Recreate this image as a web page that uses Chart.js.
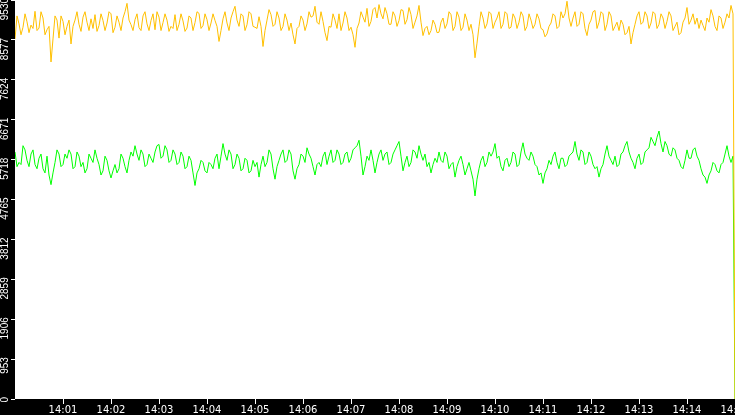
<!DOCTYPE html>
<html>
<head>
<meta charset="utf-8">
<title>Two channel trace</title>
<style>
  html, body { margin: 0; padding: 0; background: #000; }
  canvas { display: block; }
</style>
<script src="https://cdn.jsdelivr.net/npm/chart.js@4.4.1/dist/chart.umd.min.js"></script>
</head>
<body>
<canvas id="chart" width="735" height="415"></canvas>
<script>
// one sample every 2.5 s from 14:00:00 to 14:15:00
const sampleStep = 2.5;

const yellowValues = [
    8600, 9150, 8960, 8700, 8880, 9200, 9010, 8750, 8930, 8850, 9260, 8800, 8860, 9250, 9100, 8700, 8820, 8900, 8050, 8600,
    9150, 9050, 8620, 9150, 9020, 8700, 8900, 9050, 8480, 8900, 9050, 9250, 8950, 8780, 9120, 9250, 9000, 8800, 9080, 8850,
    9180, 8780, 8920, 9200, 9040, 8800, 8980, 9250, 9200, 8750, 8880, 9150, 9000, 8800, 9100, 9250, 9450, 9050, 8940, 8800,
    9060, 9200, 8870, 8800, 9150, 9250, 8960, 8800, 9040, 9200, 8820, 9250, 9120, 8800, 8990, 9200, 9050, 8780, 8900, 8850,
    9180, 8800, 8950, 9200, 9030, 8780, 8860, 9150, 9100, 8800, 8990, 9250, 9210, 8850, 8920, 9200, 9060, 8800, 8980, 9200,
    9040, 8900, 8540, 8800, 9080, 9250, 8980, 8800, 9100, 9250, 9380, 9050, 8900, 9200, 9150, 8800, 8940, 9250, 9200, 8900,
    8880, 8850, 9130, 8900, 8420, 8800, 9050, 9300, 9180, 8900, 8950, 9250, 9100, 8800, 8900, 9200, 9050, 8800, 8980, 8700,
    8480, 8850, 8900, 9150, 9050, 8800, 8960, 9250, 9120, 9150, 9380, 9000, 8950, 9250, 9020, 8750, 8560, 8900, 8880, 9200,
    9050, 8850, 9200, 8800, 8980, 9250, 9100, 8800, 8880, 8700, 8400, 8850, 8980, 9250, 9120, 9000, 9330, 8900, 9020, 9300,
    9350, 9100, 9420, 9200, 9080, 9350, 9200, 8950, 8950, 9250, 9150, 8900, 9040, 9300, 9280, 8950, 9060, 9350, 9180, 8850,
    9000, 9150, 9400, 9000, 8680, 8850, 8900, 8700, 8800, 9050, 8950, 8750, 8760, 9000, 9100, 8850, 8960, 9250, 9180, 8800,
    8900, 9250, 9120, 8800, 8880, 9200, 9050, 8800, 8950, 8700, 8150, 8500, 8900, 9250, 9100, 8850, 8960, 9250, 9200, 8850,
    9000, 9100, 9250, 8850, 8950, 9250, 9200, 8850, 8880, 9200, 9100, 8850, 9000, 9250, 9150, 8800, 8900, 9200, 9050, 8850,
    8950, 9200, 9080, 8850, 8820, 8650, 8720, 8900, 8980, 9200, 9150, 8850, 8900, 9250, 9100, 9200, 9500, 9100, 8900, 9100,
    9250, 8900, 8950, 9250, 9200, 8850, 8680, 8950, 9050, 9250, 9280, 8850, 9000, 9250, 9200, 8800, 8950, 9250, 9150, 8800,
    8900, 9000, 8800, 9050, 8950, 8700, 8750, 8900, 8480, 8750, 8950, 9150, 9250, 8950, 9000, 9250, 9150, 8850, 8980, 9250,
    9200, 8850, 8950, 9200, 9100, 8850, 9020, 9250, 9150, 8800, 8900, 9000, 8700, 8750, 9000, 9100, 9350, 8950, 9050, 9200,
    8950, 9100, 8850, 9050, 8920, 8800, 9100, 9000, 9300, 9150, 8900, 8800, 9150, 9100, 8850, 9000, 9200, 9100, 9400, 9200,
    0
];

const greenValues = [
    5900, 5550, 5650, 5600, 6050, 5950, 5700, 5550, 5850, 5950, 5600, 5500, 5750, 5850, 5500, 5400, 5800, 5350, 5120, 5400,
    5650, 5950, 5850, 5550, 5600, 5850, 5750, 5950, 5850, 5500, 5550, 5900, 5800, 5550, 5650, 5400, 5500, 5850, 5750, 5650,
    5950, 5750, 5600, 5350, 5450, 5800, 5700, 5450, 5280, 5450, 5600, 5400, 5500, 5850, 5750, 5550, 5400, 5700, 5900, 5800,
    6050, 5850, 5700, 5950, 5850, 5550, 5600, 5850, 5750, 5650, 5900, 6050, 6080, 5750, 5800, 6050, 5950, 5650, 5700, 5950,
    5850, 5600, 5650, 5900, 5800, 5500, 5550, 5800, 5700, 5400, 5100, 5400, 5500, 5700, 5650, 5450, 5400, 5650, 5600, 5500,
    5750, 5850, 5500, 5800, 6100, 5850, 5700, 5950, 5850, 5500, 5600, 5850, 5750, 5450, 5500, 5750, 5700, 5400, 5450, 5700,
    5550, 5650, 5300, 5600, 5800, 5550, 5650, 5950, 5850, 5500, 5250, 5550, 5700, 5850, 5950, 5650, 5700, 5950, 5850, 5450,
    5250, 5500, 5600, 5850, 5800, 5650, 6000, 5850, 5750, 5550, 5350, 5600, 5650, 5550, 5800, 5900, 5600, 5800, 5950, 5650,
    5700, 5950, 5850, 5600, 5650, 5850, 5900, 5650, 5750, 5950, 6000, 6050, 6180, 5800, 5350, 5550, 5800, 5700, 5950, 5700,
    5400, 5650, 5850, 5950, 5700, 5850, 5900, 5600, 5650, 5850, 5950, 6050, 6150, 5800, 5450, 5650, 5800, 5550, 5650, 5950,
    5900, 5750, 6050, 5850, 5700, 5850, 5550, 5650, 5400, 5600, 5750, 5650, 5900, 5700, 5650, 5900, 5800, 5500, 5600, 5650,
    5300, 5550, 5700, 5800, 5600, 5350, 5500, 5650, 5450, 5250, 4850, 5250, 5500, 5700, 5800, 5550, 5650, 5900, 5800, 5900,
    6100, 5750, 5800, 5550, 5450, 5700, 5750, 5550, 5650, 5900, 5850, 5550, 5600, 5900, 6120, 5850, 5750, 5700, 5900, 5800,
    5600, 5550, 5350, 5400, 5150, 5400, 5500, 5700, 5600, 5800, 5900, 5650, 5500, 5750, 5750, 5550, 5600, 5800, 5850, 5900,
    6150, 5850, 5700, 5950, 5900, 5600, 5650, 5900, 5800, 5600, 5500, 5550, 5300, 5500, 5600, 5850, 6050, 5800, 5700, 5600,
    5800, 5550, 5600, 5850, 5900, 6050, 6150, 5900, 5750, 5650, 5500, 5750, 5850, 5600, 5650, 5900, 5950, 6000, 6250, 6150,
    6050, 6250, 6400, 6100, 5900, 6150, 6050, 5850, 5800, 6000, 5950, 5750, 5700, 5550, 5500, 5700, 5950, 5750, 5750, 5950,
    6000, 5800, 5700, 5500, 5350, 5300, 5150, 5350, 5450, 5650, 5600, 5450, 5400, 5600, 5650, 5850, 6050, 5800, 5650, 5800,
    0
];

const xTickSeconds = [60, 120, 180, 240, 300, 360, 420, 480, 540, 600, 660, 720, 780, 840, 900];
const xTickLabels = ['14:01', '14:02', '14:03', '14:04', '14:05', '14:06', '14:07', '14:08',
                     '14:09', '14:10', '14:11', '14:12', '14:13', '14:14', '14:15'];
const yTickValues = [0, 953, 1906, 2859, 3812, 4765, 5718, 6671, 7624, 8577, 9530];

const toPoints = values => values.map((v, i) => ({ x: i * sampleStep, y: v }));

// white plot area on the black canvas
const plotBackground = {
    id: 'plotBackground',
    beforeDraw(chart) {
        const { ctx, chartArea: a } = chart;
        ctx.save();
        ctx.fillStyle = '#ffffff';
        ctx.fillRect(a.left, a.top, a.right - a.left, a.bottom - a.top);
        ctx.restore();
    }
};

new Chart(document.getElementById('chart').getContext('2d'), {
    type: 'line',
    data: {
        datasets: [
            {
                label: 'yellow',
                data: toPoints(yellowValues),
                borderColor: '#ffc000',
                borderWidth: 1,
                pointRadius: 0,
                tension: 0
            },
            {
                label: 'green',
                data: toPoints(greenValues),
                borderColor: '#00ff00',
                borderWidth: 1,
                pointRadius: 0,
                tension: 0
            }
        ]
    },
    options: {
        responsive: false,
        animation: false,
        devicePixelRatio: 1,
        layout: { padding: 0 },
        plugins: { legend: { display: false }, tooltip: { enabled: false } },
        scales: {
            x: {
                type: 'linear',
                min: 0,
                max: 900,
                afterBuildTicks: s => { s.ticks = xTickSeconds.map(value => ({ value })); },
                afterFit: s => { s.height = 16; s.paddingLeft = 0; s.paddingRight = 0; },
                grid: { drawOnChartArea: false, tickLength: 5, tickColor: '#ffffff' },
                border: { display: false },
                ticks: {
                    callback: (value, index) => xTickLabels[index],
                    color: '#ffffff',
                    font: { family: 'DejaVu Sans', size: 10 },
                    padding: 0,
                    maxRotation: 0,
                    autoSkip: false
                }
            },
            y: {
                min: 0,
                max: 9530,
                afterBuildTicks: s => { s.ticks = yTickValues.map(value => ({ value })); },
                afterFit: s => { s.width = 15; s.paddingTop = 0; s.paddingBottom = 0; },
                grid: { drawOnChartArea: false, tickLength: 4, tickColor: '#ffffff' },
                border: { display: false },
                ticks: {
                    callback: value => String(value),
                    color: '#ffffff',
                    font: { family: 'Liberation Sans', size: 10 },
                    minRotation: 90,
                    maxRotation: 90,
                    padding: 5.5,
                    labelOffset: -2,
                    autoSkip: false
                }
            }
        }
    },
    plugins: [plotBackground]
});
</script>
</body>
</html>
